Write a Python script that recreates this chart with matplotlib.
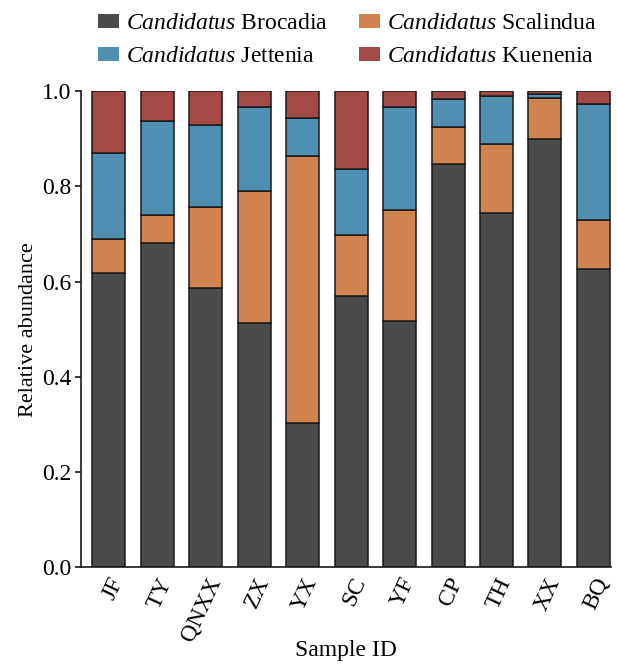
import matplotlib
matplotlib.use("Agg")
import matplotlib.pyplot as plt
import numpy as np
from matplotlib.patches import Patch

plt.rcParams['font.family'] = ['Liberation Serif', 'DejaVu Serif']
plt.rcParams['mathtext.fontset'] = 'custom'
plt.rcParams['mathtext.rm'] = 'Liberation Serif'
plt.rcParams['mathtext.it'] = 'Liberation Serif:italic'

samples = ['JF', 'TY', 'QNXX', 'ZX', 'YX', 'SC', 'YF', 'CP', 'TH', 'XX', 'BQ']
brocadia = [0.618, 0.681, 0.586, 0.512, 0.302, 0.570, 0.518, 0.847, 0.744, 0.899, 0.626]
scalindua = [0.072, 0.058, 0.171, 0.279, 0.562, 0.127, 0.233, 0.078, 0.145, 0.086, 0.103]
jettenia = [0.181, 0.199, 0.171, 0.176, 0.079, 0.140, 0.215, 0.058, 0.101, 0.009, 0.243]
kuenenia = [0.129, 0.062, 0.072, 0.033, 0.057, 0.163, 0.034, 0.017, 0.010, 0.006, 0.028]

names = ['Brocadia', 'Scalindua', 'Jettenia', 'Kuenenia']
colors = ['#4a4c4b', '#d0834f', '#4e8fb2', '#a34a47']

fig = plt.figure(figsize=(6.17, 6.65), dpi=100)
ax = fig.add_axes([0.131, 0.147, 0.859, 0.716])

x = np.arange(len(samples))
bottom = np.zeros(len(samples))
handles = {}
for vals, name, c in zip([brocadia, scalindua, jettenia, kuenenia], names, colors):
    ax.bar(x, vals, width=0.68, bottom=bottom, color=c, edgecolor='#1a1a1a', linewidth=1.1)
    bottom += np.array(vals)
    handles[name] = Patch(facecolor=c, edgecolor='none')

ax.set_ylim(0, 1.0)
ax.set_xlim(-0.58, 10.36)
ax.set_yticks([0, 0.2, 0.4, 0.6, 0.8, 1.0])
ax.set_yticklabels(['0.0', '0.2', '0.4', '0.6', '0.8', '1.0'])
ax.set_xticks(x)
ax.set_xticklabels(samples, rotation=65, ha='right', rotation_mode='anchor')
ax.tick_params(axis='y', length=4, width=1.1, labelsize=17, pad=3)
ax.tick_params(axis='x', length=0, labelsize=17, pad=5)
for s in ['top', 'right']:
    ax.spines[s].set_visible(False)
for s in ['left', 'bottom']:
    ax.spines[s].set_linewidth(1.2)
    ax.spines[s].set_color('#1a1a1a')

ax.set_ylabel('Relative abundance', fontsize=16, labelpad=3)
ax.set_xlabel('Sample ID', fontsize=17)
ax.xaxis.set_label_coords(0.5, -0.152)

order = ['Brocadia', 'Jettenia', 'Scalindua', 'Kuenenia']
leg = fig.legend([handles[n] for n in order],
                 [r'$\it{Candidatus}$ ' + n for n in order],
                 ncol=2, loc='upper center', bbox_to_anchor=(0.563, 1.012),
                 frameon=False, fontsize=17, handlelength=0.9, handleheight=0.55,
                 handletextpad=0.3, columnspacing=1.3, labelspacing=0.5)

fig.savefig('out.png', dpi=100)
